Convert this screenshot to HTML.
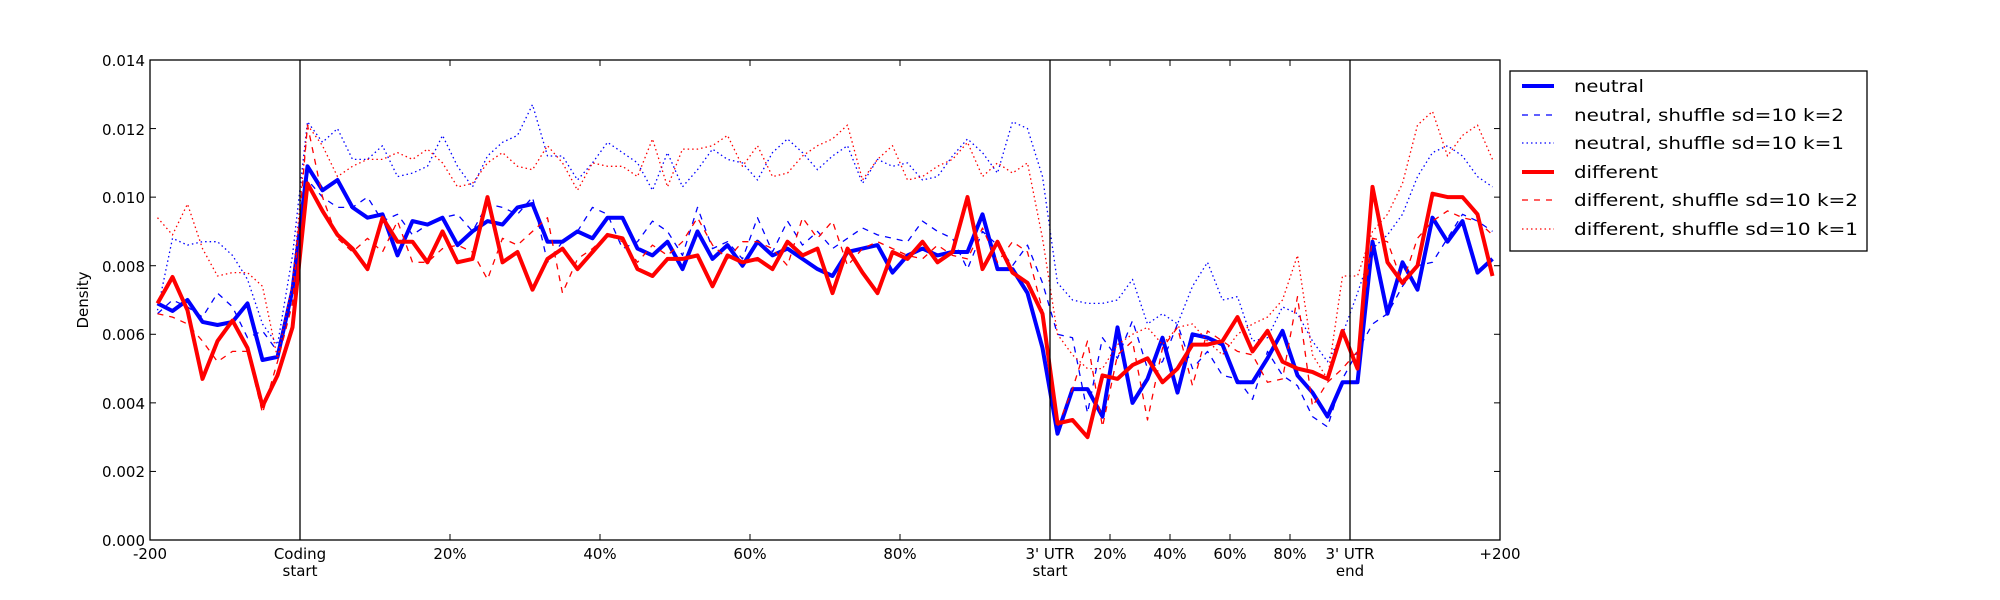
<!DOCTYPE html>
<html><head><meta charset="utf-8"><style>
html,body{margin:0;padding:0;background:#fff;}
svg{display:block;font-family:"DejaVu Sans","Liberation Sans",sans-serif;}
</style></head><body>
<svg id="s" width="2000" height="600" xmlns="http://www.w3.org/2000/svg">
<rect width="2000" height="600" fill="#fff"/>
<g id="lines"></g>
<g stroke="#000" stroke-width="1.3" fill="none">
<line x1="300" y1="60" x2="300" y2="540"/>
<line x1="1050" y1="60" x2="1050" y2="540"/>
<line x1="1350" y1="60" x2="1350" y2="540"/>
<rect x="150" y="60" width="1350" height="480"/>
</g>
<g id="ticks" stroke="#000" stroke-width="1"></g>
<g font-size="15" fill="#000" text-anchor="end">
<text x="145" y="546">0.000</text><text x="145" y="477">0.002</text><text x="145" y="409">0.004</text><text x="145" y="340">0.006</text><text x="145" y="272">0.008</text><text x="145" y="203">0.010</text><text x="145" y="135">0.012</text><text x="145" y="66">0.014</text>
</g>
<text x="88" y="300" font-size="15" text-anchor="middle" transform="rotate(-90 88 300)">Density</text>
<g font-size="15" text-anchor="middle">
<text x="150" y="559">-200</text>
<text x="300" y="559">Coding</text><text x="300" y="576">start</text>
<text x="450" y="559">20%</text><text x="600" y="559">40%</text><text x="750" y="559">60%</text><text x="900" y="559">80%</text>
<text x="1050" y="559">3' UTR</text><text x="1050" y="576">start</text>
<text x="1110" y="559">20%</text><text x="1170" y="559">40%</text><text x="1230" y="559">60%</text><text x="1290" y="559">80%</text>
<text x="1350" y="559">3' UTR</text><text x="1350" y="576">end</text>
<text x="1500" y="559">+200</text>
</g>
<g>
<rect x="1510" y="71" width="357" height="180" fill="#fff" stroke="#000" stroke-width="1.3"/>
<line x1="1522" y1="86" x2="1554" y2="86" stroke="#00f" stroke-width="4"/>
<line x1="1522" y1="115" x2="1554" y2="115" stroke="#00f" stroke-width="1.3" stroke-dasharray="6,6"/>
<line x1="1522" y1="143" x2="1554" y2="143" stroke="#00f" stroke-width="1.3" stroke-dasharray="1.5,3"/>
<line x1="1522" y1="172" x2="1554" y2="172" stroke="#f00" stroke-width="4"/>
<line x1="1522" y1="200" x2="1554" y2="200" stroke="#f00" stroke-width="1.3" stroke-dasharray="6,6"/>
<line x1="1522" y1="229" x2="1554" y2="229" stroke="#f00" stroke-width="1.3" stroke-dasharray="1.5,3"/>
<g font-size="17">
<text x="1574" y="92" textLength="70" lengthAdjust="spacingAndGlyphs">neutral</text>
<text x="1574" y="121" textLength="270" lengthAdjust="spacingAndGlyphs">neutral, shuffle sd=10 k=2</text>
<text x="1574" y="149" textLength="270" lengthAdjust="spacingAndGlyphs">neutral, shuffle sd=10 k=1</text>
<text x="1574" y="178" textLength="84" lengthAdjust="spacingAndGlyphs">different</text>
<text x="1574" y="206" textLength="284" lengthAdjust="spacingAndGlyphs">different, shuffle sd=10 k=2</text>
<text x="1574" y="235" textLength="284" lengthAdjust="spacingAndGlyphs">different, shuffle sd=10 k=1</text>
</g>
</g>
</svg>
<script>
var N={
nt:[0.0069,0.00668,0.0070,0.00636,0.00627,0.00636,0.0069,0.00525,0.00534,0.0073,
0.0109,0.0102,0.0105,0.0097,0.0094,0.0095,0.0083,0.0093,0.0092,0.0094,0.0086,0.0090,0.0093,0.0092,0.0097,0.0098,0.0087,0.0087,0.0090,0.0088,0.0094,0.0094,0.0085,0.0083,0.0087,0.0079,0.0090,0.0082,0.0086,0.0080,0.0087,0.0083,0.0085,0.0082,0.0079,0.0077,0.0084,0.0085,0.0086,0.0078,0.0083,0.0085,0.0083,0.0084,0.0084,0.0095,0.0079,0.0079,0.0072,0.0056,
0.0031,0.0044,0.0044,0.0036,0.0062,0.0040,0.0047,0.0059,0.0043,0.0060,0.0059,0.0057,0.0046,0.0046,0.0053,0.0061,0.0048,0.0043,0.0036,0.0046,
0.0046,0.0087,0.0066,0.0081,0.0073,0.0094,0.0087,0.0093,0.0078,0.0082],
nd:[0.0066,0.0070,0.0068,0.0065,0.0072,0.0068,0.0059,0.0061,0.0055,0.0069,
0.0105,0.0100,0.0097,0.0097,0.0100,0.0093,0.0095,0.0089,0.0092,0.0094,0.0095,0.0090,0.0098,0.0097,0.0095,0.0100,0.0081,0.0087,0.0090,0.0097,0.0095,0.0085,0.0087,0.0093,0.0090,0.0083,0.0097,0.0085,0.0087,0.0082,0.0094,0.0084,0.0093,0.0086,0.0090,0.0085,0.0088,0.0091,0.0089,0.0088,0.0087,0.0093,0.0090,0.0088,0.0079,0.0090,0.0086,0.0080,0.0086,0.0075,
0.0060,0.0059,0.0037,0.0059,0.0053,0.0064,0.0050,0.0052,0.0063,0.0050,0.0055,0.0048,0.0047,0.0041,0.0055,0.0048,0.0045,0.0036,0.0033,0.0047,
0.0055,0.0063,0.0066,0.0074,0.0080,0.0081,0.0088,0.0095,0.0093,0.0090],
no:[0.0067,0.0088,0.0086,0.0087,0.0087,0.0083,0.0076,0.0063,0.0057,0.0083,
0.0122,0.0116,0.0120,0.0111,0.0111,0.0115,0.0106,0.0107,0.0109,0.0118,0.0109,0.0103,0.0112,0.0116,0.0118,0.0127,0.0112,0.0112,0.0105,0.0110,0.0116,0.0113,0.0110,0.0102,0.0113,0.0103,0.0108,0.0114,0.0111,0.0110,0.0105,0.0113,0.0117,0.0113,0.0108,0.0112,0.0115,0.0104,0.0111,0.0109,0.0110,0.0105,0.0106,0.0112,0.0117,0.0113,0.0107,0.0122,0.0120,0.0106,
0.0075,0.0070,0.0069,0.0069,0.0070,0.0076,0.0063,0.0066,0.0063,0.0074,0.0081,0.0070,0.0071,0.0058,0.0059,0.0068,0.0066,0.0058,0.0052,0.0060,
0.0072,0.0085,0.0089,0.0095,0.0106,0.0113,0.0115,0.0112,0.0106,0.0103],
dt:[0.0069,0.00767,0.0067,0.0047,0.0058,0.0064,0.0056,0.0039,0.0048,0.0062,
0.0104,0.0096,0.0089,0.0085,0.0079,0.0094,0.0087,0.0087,0.0081,0.0090,0.0081,0.0082,0.0100,0.0081,0.0084,0.0073,0.0082,0.0085,0.0079,0.0084,0.0089,0.0088,0.0079,0.0077,0.0082,0.0082,0.0083,0.0074,0.0083,0.0081,0.0082,0.0079,0.0087,0.0083,0.0085,0.0072,0.0085,0.0078,0.0072,0.0084,0.0082,0.0087,0.0081,0.0084,0.0100,0.0079,0.0087,0.0078,0.0075,0.0066,
0.0034,0.0035,0.0030,0.0048,0.0047,0.0051,0.0053,0.0046,0.0050,0.0057,0.0057,0.0058,0.0065,0.0055,0.0061,0.0052,0.0050,0.0049,0.0047,0.0061,
0.0050,0.0103,0.0081,0.0075,0.0080,0.0101,0.0100,0.0100,0.0095,0.0077],
dd:[0.0066,0.0065,0.0063,0.0058,0.0052,0.0055,0.0055,0.0037,0.0052,0.0069,
0.0121,0.0100,0.0088,0.0084,0.0088,0.0084,0.0093,0.0081,0.0081,0.0085,0.0086,0.0084,0.0076,0.0088,0.0086,0.0090,0.0094,0.0072,0.0082,0.0085,0.0089,0.0087,0.0081,0.0086,0.0083,0.0087,0.0094,0.0086,0.0082,0.0087,0.0087,0.0085,0.0080,0.0094,0.0088,0.0093,0.0080,0.0085,0.0087,0.0085,0.0083,0.0082,0.0086,0.0083,0.0082,0.0091,0.0081,0.0087,0.0084,0.0067,
0.0033,0.0044,0.0058,0.0033,0.0054,0.0058,0.0035,0.0056,0.0062,0.0045,0.0061,0.0058,0.0055,0.0054,0.0046,0.0047,0.0071,0.0039,0.0046,0.0050,
0.0055,0.0088,0.0087,0.0075,0.0088,0.0093,0.0096,0.0094,0.0093,0.0089],
dor:[0.0094,0.0089,0.0098,0.0085,0.0077,0.0078,0.0078,0.0074,0.0053,0.0075,
0.0121,0.0115,0.0106,0.0109,0.0111,0.0111,0.0113,0.0111,0.0114,0.0110,0.0103,0.0104,0.0110,0.0113,0.0109,0.0108,0.0115,0.0110,0.0102,0.0110,0.0109,0.0109,0.0106,0.0117,0.0103,0.0114,0.0114,0.0115,0.0118,0.0109,0.0115,0.0106,0.0107,0.0112,0.0115,0.0117,0.0121,0.0105,0.0111,0.0115,0.0105,0.0106,0.0109,0.0111,0.0116,0.0106,0.0110,0.0107,0.0110,0.0088,
0.0060,0.0054,0.0050,0.0050,0.0057,0.0060,0.0062,0.0057,0.0062,0.0063,0.0058,0.0054,0.0060,0.0063,0.0065,0.0070,0.0083,0.0054,0.0047,0.0077,
0.0077,0.0090,0.0095,0.0104,0.0121,0.0125,0.0112,0.0118,0.0121,0.0111]};
function path(a){return a.map(function(v,i){return (i?'L':'M')+(157.5+15*i).toFixed(1)+' '+(540-v/0.014*480).toFixed(1);}).join(' ');}
var spec=[['nt','#00f',4,''],['nd','#00f',1.3,'6,6'],['no','#00f',1.3,'1.5,3'],['dt','#f00',4,''],['dd','#f00',1.3,'6,6'],['dor','#f00',1.3,'1.5,3']];
var h='';spec.forEach(function(s){h+='<path d="'+path(N[s[0]])+'" fill="none" stroke="'+s[1]+'" stroke-width="'+s[2]+'" stroke-linejoin="round"'+(s[3]?' stroke-dasharray="'+s[3]+'"':'')+'/>';});
document.getElementById('lines').innerHTML=h;
var t='';
for(var k=0;k<=7;k++){var y=540-k*480/7;t+='<line x1="150" y1="'+y+'" x2="156" y2="'+y+'"/><line x1="1494" y1="'+y+'" x2="1500" y2="'+y+'"/>';}
[150,300,450,600,750,900,1050,1110,1170,1230,1290,1350,1500].forEach(function(x){t+='<line x1="'+x+'" y1="540" x2="'+x+'" y2="534"/><line x1="'+x+'" y1="60" x2="'+x+'" y2="66"/>';});
document.getElementById('ticks').innerHTML=t;
</script>
</body></html>
